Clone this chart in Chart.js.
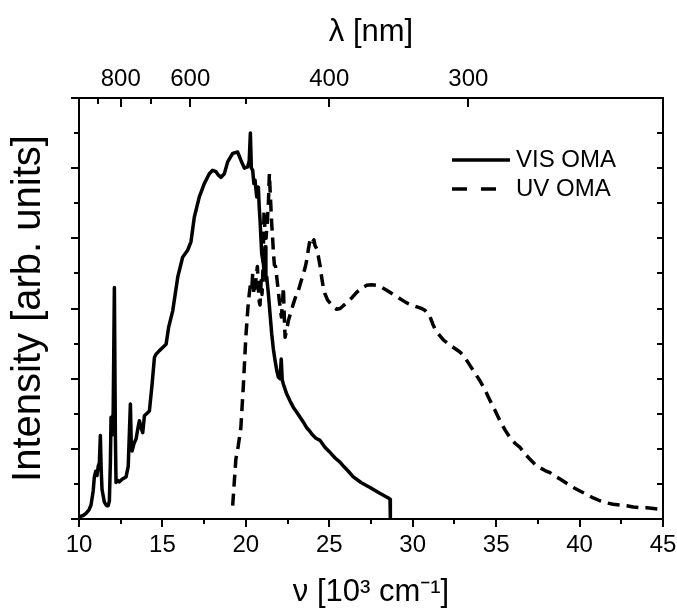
<!DOCTYPE html>
<html>
<head>
<meta charset="utf-8">
<title>OMA emission spectra</title>
<script src="https://cdn.jsdelivr.net/npm/chart.js@4.4.1/dist/chart.umd.min.js"></script>
<style>
  html, body { margin: 0; padding: 0; background: #fff; }
  canvas { display: block; }
</style>
</head>
<body>
<canvas id="spectrum" width="677" height="611" style="width:677px;height:611px"></canvas>
<script>
// Wavenumber in 10^3 cm^-1, intensity in arbitrary units (one major tick = 1)
const visWavenumber = [
  10.00, 10.25, 10.42, 10.60, 10.72, 10.85, 10.92, 11.00, 11.08, 11.15, 11.22, 11.28, 11.33, 11.38,
  11.52, 11.65, 11.75, 11.82, 11.88, 11.92, 12.00, 12.05, 12.12, 12.18, 12.22, 12.32, 12.42, 12.60,
  12.82, 12.95, 13.08, 13.13, 13.18, 13.30, 13.42, 13.52, 13.62, 13.72, 13.82, 13.92, 14.05, 14.22,
  14.38, 14.52, 14.62, 14.82, 15.00, 15.22, 15.37, 15.62, 15.92, 16.21, 16.51, 16.71, 16.91, 17.21,
  17.51, 17.81, 18.01, 18.21, 18.36, 18.51, 18.71, 18.91, 19.21, 19.51, 19.71, 19.91, 20.11, 20.20,
  20.27, 20.33, 20.41, 20.48, 20.55, 20.65, 20.75, 20.80, 20.85, 20.95, 21.05, 21.10, 21.15, 21.20,
  21.25, 21.35, 21.45, 21.55, 21.65, 21.75, 21.85, 21.95, 22.05, 22.12, 22.18, 22.25, 22.45, 22.65,
  22.85, 23.05, 23.25, 23.45, 23.65, 23.80, 23.95, 24.20, 24.45, 24.75, 25.04, 25.35, 25.64, 25.90,
  26.14, 26.44, 26.90, 27.44, 28.00, 28.54, 28.64, 28.66
];
const visIntensity = [
  0.03, 0.05, 0.08, 0.13, 0.20, 0.40, 0.60, 0.68, 0.62, 0.75, 0.80, 1.19, 0.70, 0.42,
  0.24, 0.19, 0.19, 0.26, 0.80, 1.45, 1.20, 1.55, 3.30, 1.20, 0.52, 0.55, 0.53, 0.57,
  0.60, 0.75, 1.64, 1.10, 0.97, 1.08, 1.14, 1.28, 1.40, 1.30, 1.23, 1.47, 1.50, 1.54,
  1.92, 2.30, 2.35, 2.40, 2.44, 2.49, 2.73, 2.97, 3.45, 3.73, 3.83, 3.95, 4.30, 4.59,
  4.78, 4.92, 4.97, 4.95, 4.90, 4.87, 4.92, 5.09, 5.21, 5.23, 5.11, 5.00, 5.02, 5.10,
  5.50, 5.00, 4.97, 4.78, 4.83, 4.59, 4.73, 4.45, 4.26, 3.78, 3.64, 3.50, 3.88, 3.40,
  3.45, 3.21, 2.92, 2.64, 2.42, 2.26, 2.12, 2.02, 2.00, 2.28, 1.98, 1.92, 1.78, 1.68,
  1.59, 1.52, 1.45, 1.38, 1.30, 1.26, 1.21, 1.15, 1.12, 1.02, 0.95, 0.87, 0.81, 0.74,
  0.68, 0.60, 0.52, 0.45, 0.37, 0.30, 0.28, 0.00
];
const uvWavenumber = [
  19.21, 19.40, 19.55, 19.70, 19.85, 20.00, 20.12, 20.20, 20.28, 20.36, 20.41, 20.48, 20.55, 20.62,
  20.69, 20.75, 20.80, 20.85, 20.92, 20.97, 21.03, 21.09, 21.15, 21.21, 21.29, 21.35, 21.41, 21.45,
  21.49, 21.55, 21.59, 21.65, 21.71, 21.78, 21.85, 21.92, 22.01, 22.07, 22.13, 22.20, 22.25, 22.30,
  22.35, 22.45, 22.55, 22.70, 22.85, 23.00, 23.15, 23.30, 23.45, 23.55, 23.65, 23.75, 23.84, 23.92,
  24.01, 24.08, 24.14, 24.25, 24.34, 24.44, 24.54, 24.64, 24.74, 24.90, 25.04, 25.25, 25.44, 25.65,
  25.84, 26.04, 26.34, 26.64, 26.94, 27.24, 27.54, 27.84, 28.14, 28.44, 28.84, 29.24, 29.64, 30.04,
  30.30, 30.54, 30.75, 31.04, 31.20, 31.35, 31.53, 31.85, 32.23, 32.53, 32.83, 33.13, 33.43, 33.73,
  34.03, 34.33, 34.63, 34.93, 35.23, 35.53, 35.83, 36.13, 36.43, 36.73, 37.03, 37.33, 37.63, 37.93,
  38.23, 38.53, 38.83, 39.22, 39.62, 40.02, 40.43, 40.82, 41.22, 41.62, 42.02, 42.42, 42.82, 43.22,
  43.62, 44.02, 44.42, 44.82, 45.00
];
const uvIntensity = [
  0.19, 0.85, 1.05, 1.30, 1.90, 2.60, 3.00, 3.20, 3.35, 3.30, 3.50, 3.20, 3.30, 3.45,
  3.60, 3.30, 3.10, 3.05, 3.40, 3.20, 3.60, 4.40, 4.10, 4.00, 4.25, 4.50, 4.92, 4.70,
  4.50, 4.20, 4.07, 3.80, 3.62, 3.60, 3.45, 3.30, 3.10, 3.00, 2.88, 3.10, 3.30, 2.90,
  2.59, 2.70, 2.83, 2.95, 3.07, 3.18, 3.26, 3.38, 3.50, 3.58, 3.69, 3.85, 3.97, 4.00,
  3.95, 3.98, 3.90, 3.85, 3.75, 3.62, 3.45, 3.30, 3.21, 3.12, 3.08, 3.02, 2.99, 3.00,
  3.04, 3.08, 3.15, 3.23, 3.29, 3.33, 3.34, 3.33, 3.30, 3.26, 3.20, 3.14, 3.08, 3.04,
  3.02, 3.00, 2.97, 2.88, 2.78, 2.70, 2.64, 2.55, 2.48, 2.43, 2.38, 2.30, 2.19, 2.08,
  1.97, 1.84, 1.69, 1.55, 1.40, 1.27, 1.16, 1.08, 1.02, 0.93, 0.85, 0.78, 0.73, 0.69,
  0.66, 0.61, 0.57, 0.51, 0.45, 0.40, 0.35, 0.30, 0.26, 0.23, 0.21, 0.20, 0.19, 0.17,
  0.16, 0.16, 0.15, 0.14, 0.15
];
const seriesNames = ['VIS OMA', 'UV OMA'];

// Axis ticks: wavenumber on the bottom, the matching wavelengths (nm) on the top
const wavenumberTicks = [10, 15, 20, 25, 30, 35, 40, 45];
const wavelengthTicks = [900, 800, 700, 600, 500, 400, 300];
const wavelengthLabelled = [800, 600, 400, 300];
const intensityRange = [0, 6];

// Frame geometry
const FRAME = { left: 79, right: 663, top: 98, bottom: 519 };
const W = 677, H = 611;
const FONT = "'Liberation Sans', Arial, Helvetica, sans-serif";
const LEGEND = { x: 452, y: 160, lineLength: 58, gap: 6, rowHeight: 29, font: 24, dash: [15, 14] };

Chart.defaults.font.family = FONT;
Chart.defaults.color = '#000';

const toPoints = (xs, ys) => xs.map((x, i) => ({ x, y: ys[i] }));

// Keep the frame fixed: label overhang must not shrink the plot area
const fixHeight = h => s => { s.height = h; s.paddingLeft = 0; s.paddingRight = 0; };
const fixWidth = w => s => { s.width = w; s.paddingTop = 0; s.paddingBottom = 0; };

// Tick marks drawn from the scales: outward on the left/bottom, inward on the top/right
const frameTicks = {
  id: 'frameTicks',
  afterDraw(chart) {
    const { ctx, chartArea: a, scales } = chart;
    ctx.save();
    ctx.strokeStyle = '#000';
    ctx.lineWidth = 2;
    ctx.lineCap = 'butt';
    const seg = (x1, y1, x2, y2) => { ctx.beginPath(); ctx.moveTo(x1, y1); ctx.lineTo(x2, y2); ctx.stroke(); };

    const bx = scales.x;
    const bt = bx.ticks.map(t => t.value);
    bt.forEach((v, i) => {
      const p = Math.round(bx.getPixelForValue(v));
      seg(p, a.bottom, p, a.bottom + 8);
      if (i < bt.length - 1) {
        const m = Math.round(bx.getPixelForValue((v + bt[i + 1]) / 2));
        seg(m, a.bottom, m, a.bottom + 5);
      }
    });

    scales.y.ticks.forEach(t => {
      const p = Math.round(scales.y.getPixelForValue(t.value));
      const len = Number.isInteger(t.value) ? 8 : 5;
      seg(a.left - len, p, a.left, p);
    });

    scales.y2.ticks.forEach(t => {
      if (t.value <= intensityRange[0] || t.value >= intensityRange[1]) return;
      const p = Math.round(scales.y2.getPixelForValue(t.value));
      seg(a.right - 6, p, a.right, p);
    });

    scales.x2.ticks.forEach(t => {
      const p = Math.round(scales.x2.getPixelForValue(t.value));
      seg(p, a.top, p, a.top + (t.major ? 9 : 6));
    });
    ctx.restore();
  }
};

// Line-sample legend in the upper right of the plot, styled from each dataset
const lineLegend = {
  id: 'lineLegend',
  afterDraw(chart) {
    const { ctx } = chart;
    ctx.save();
    ctx.font = `${LEGEND.font}px ${FONT}`;
    ctx.textBaseline = 'middle';
    ctx.textAlign = 'left';
    chart.data.datasets.forEach((ds, i) => {
      const y = LEGEND.y + i * LEGEND.rowHeight;
      ctx.strokeStyle = ds.borderColor;
      ctx.lineWidth = ds.borderWidth;
      ctx.lineCap = 'butt';
      ctx.setLineDash(ds.borderDash ? LEGEND.dash : []);
      ctx.beginPath();
      ctx.moveTo(LEGEND.x, y);
      ctx.lineTo(LEGEND.x + LEGEND.lineLength, y);
      ctx.stroke();
      ctx.setLineDash([]);
      ctx.fillStyle = '#000';
      ctx.fillText(ds.label, LEGEND.x + LEGEND.lineLength + LEGEND.gap, y);
    });
    ctx.restore();
  }
};

const hiddenGrid = { display: true, drawOnChartArea: false, drawTicks: false };
const frameBorder = { display: true, color: '#000', width: 2 };

new Chart(document.getElementById('spectrum'), {
  type: 'line',
  data: {
    datasets: [
      {
        label: seriesNames[0],
        data: toPoints(visWavenumber, visIntensity),
        borderColor: '#000',
        borderWidth: 3.5,
        borderJoinStyle: 'round',
        pointRadius: 0,
        tension: 0,
        xAxisID: 'x',
        yAxisID: 'y'
      },
      {
        label: seriesNames[1],
        data: toPoints(uvWavenumber, uvIntensity),
        borderColor: '#000',
        borderWidth: 3.5,
        borderDash: [12, 7],
        borderJoinStyle: 'round',
        pointRadius: 0,
        tension: 0,
        xAxisID: 'x',
        yAxisID: 'y'
      }
    ]
  },
  options: {
    responsive: false,
    devicePixelRatio: 1,
    animation: false,
    layout: { padding: 0 },
    plugins: {
      tooltip: { enabled: false },
      legend: { display: false }
    },
    scales: {
      x: {
        type: 'linear',
        position: 'bottom',
        min: wavenumberTicks[0],
        max: wavenumberTicks[wavenumberTicks.length - 1],
        afterBuildTicks: s => { s.ticks = wavenumberTicks.map(v => ({ value: v })); },
        ticks: { autoSkip: false, maxRotation: 0, padding: 12, color: '#000', font: { size: 24 } },
        grid: hiddenGrid,
        border: frameBorder,
        title: {
          display: true,
          text: 'ν [10³ cm⁻¹]',
          color: '#000',
          font: { size: 31 },
          padding: { top: 0, bottom: 0 }
        },
        afterFit: fixHeight(H - FRAME.bottom)
      },
      x2: {
        type: 'linear',
        position: 'top',
        min: wavenumberTicks[0],
        max: wavenumberTicks[wavenumberTicks.length - 1],
        afterBuildTicks: s => {
          s.ticks = wavelengthTicks.map(nm => ({ value: 1e4 / nm, major: wavelengthLabelled.includes(nm) }));
        },
        ticks: {
          autoSkip: false,
          maxRotation: 0,
          padding: 4,
          color: '#000',
          font: { size: 24 },
          callback: (value, i, ticks) => ticks[i].major ? String(Math.round(1e4 / value)) : ''
        },
        grid: hiddenGrid,
        border: frameBorder,
        title: {
          display: true,
          text: 'λ [nm]',
          color: '#000',
          font: { size: 31 },
          padding: { top: 14, bottom: 0 }
        },
        afterFit: fixHeight(FRAME.top)
      },
      y: {
        type: 'linear',
        position: 'left',
        min: intensityRange[0],
        max: intensityRange[1],
        ticks: { display: false, stepSize: 0.5 },
        grid: hiddenGrid,
        border: frameBorder,
        title: {
          display: true,
          text: 'Intensity [arb. units]',
          color: '#000',
          font: { size: 40 },
          padding: { top: 5, bottom: 0 }
        },
        afterFit: fixWidth(FRAME.left)
      },
      y2: {
        type: 'linear',
        position: 'right',
        min: intensityRange[0],
        max: intensityRange[1],
        ticks: { display: false, stepSize: 0.5 },
        grid: hiddenGrid,
        border: frameBorder,
        afterFit: fixWidth(W - FRAME.right)
      }
    }
  },
  plugins: [frameTicks, lineLegend]
});
</script>
</body>
</html>
